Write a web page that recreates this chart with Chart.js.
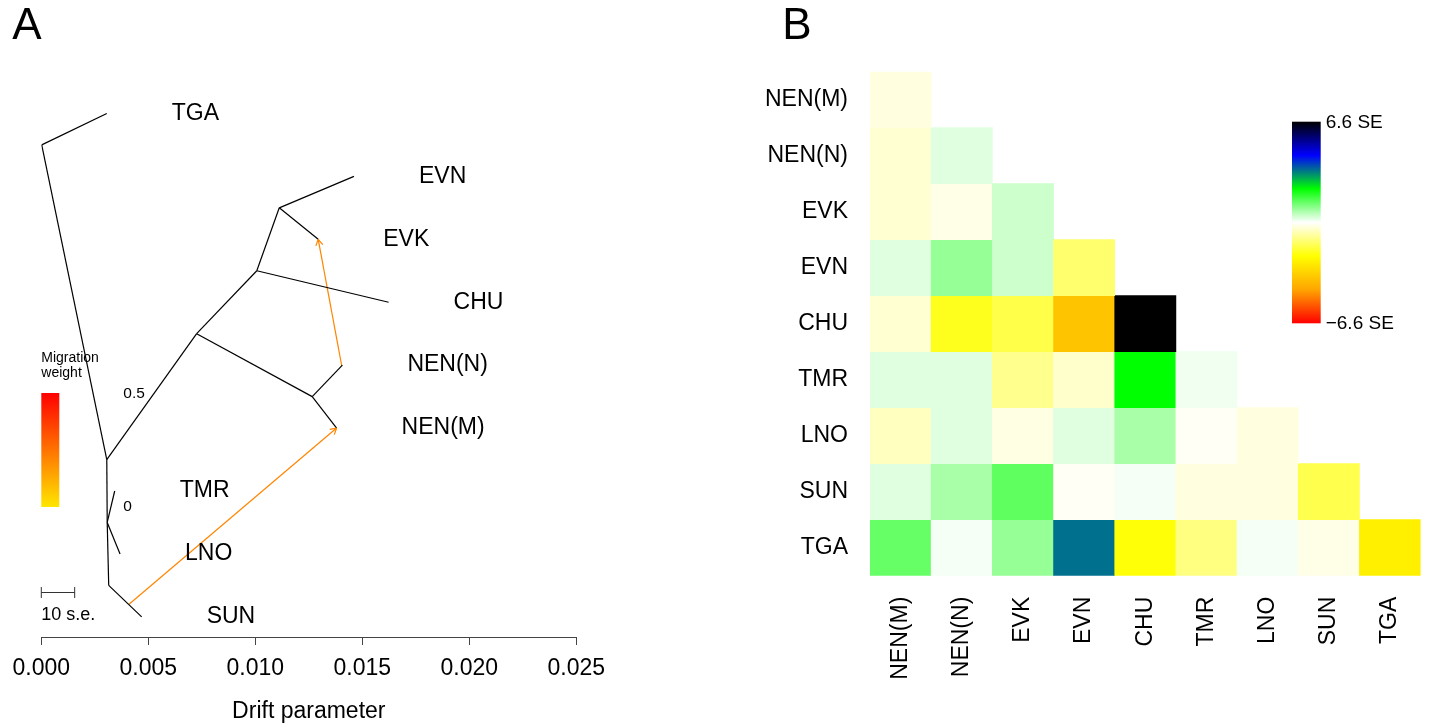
<!DOCTYPE html>
<html>
<head>
<meta charset="utf-8">
<title>TreeMix tree and residuals</title>
<script src="https://cdn.jsdelivr.net/npm/chart.js@4.4.1/dist/chart.umd.min.js"></script>
<style>
  html, body { margin: 0; padding: 0; background: #fff; }
  body { width: 1439px; height: 723px; position: relative; overflow: hidden; }
  .panel { position: absolute; top: 0; height: 723px; }
  #wrapA { left: 0; width: 720px; }
  #wrapB { left: 720px; width: 719px; }
</style>
</head>
<body>
<div id="wrapA" class="panel"><canvas id="tree"></canvas></div>
<div id="wrapB" class="panel"><canvas id="resid"></canvas></div>
<script>
// Panel A: tree. x = drift parameter, y = leaf order (1 = bottom leaf)
const nodeIds   = ['root', 'TGA', 'A', 'C', 'D', 'SUN', 'TMR', 'LNO', 'B', 'F', 'NEN(N)', 'NEN(M)', 'E', 'CHU', 'G', 'EVN', 'EVK'];
const nodeDrift = [0.00002, 0.00306, 0.00306, 0.00308, 0.00315, 0.00469, 0.00343, 0.00368, 0.00726, 0.01266, 0.01407, 0.01380, 0.01007, 0.01623, 0.01112, 0.01461, 0.01294];
const nodeY     = [8.5, 9, 3.5, 2.5, 1.5, 1, 3, 2, 5.5, 4.5, 5, 4, 6.5, 6, 7.5, 8, 7];
const edgeFrom  = ['root', 'root', 'A', 'C', 'C', 'C', 'D', 'A', 'B', 'B', 'F', 'F', 'E', 'E', 'G', 'G'];
const edgeTo    = ['TGA', 'A', 'C', 'TMR', 'LNO', 'D', 'SUN', 'B', 'E', 'F', 'NEN(N)', 'NEN(M)', 'CHU', 'G', 'EVN', 'EVK'];
const leafNames = ['TGA', 'EVN', 'EVK', 'CHU', 'NEN(N)', 'NEN(M)', 'TMR', 'LNO', 'SUN'];

// migration edges
const migFromDrift = [0.00410, 0.01404];
const migFromY     = [1.20, 4.99];
const migTo        = ['NEN(M)', 'EVK'];
const migWeight    = [0.21, 0.21];
const migMax = 0.5;
const seBarDrift = 0.00156; // length of "10 s.e."

// Panel B: residual fit, in SE units (lower triangle, rows top -> bottom)
const popLabels = ['NEN(M)', 'NEN(N)', 'EVK', 'EVN', 'CHU', 'TMR', 'LNO', 'SUN', 'TGA'];
const residNENM = [-0.27];
const residNENN = [-0.39, 0.27];
const residEVK  = [-0.39, -0.20, 0.44];
const residEVN  = [0.27, 0.91, 0.44, -1.25];
const residCHU  = [-0.40, -1.94, -1.56, -3.64, 6.6];
const residTMR  = [0.27, 0.27, -0.98, -0.44, 2.2, 0.13];
const residLNO  = [-0.55, 0.27, -0.23, 0.27, 0.75, -0.09, -0.27];
const residSUN  = [0.27, 0.75, 1.39, -0.09, 0.09, -0.27, -0.27, -1.53];
const residTGA  = [1.32, 0.09, 0.91, 3.43, -2.13, -1.10, 0.09, -0.20, -2.57];
const residRows = [residNENM, residNENN, residEVK, residEVN, residCHU, residTMR, residLNO, residSUN, residTGA];
const seMax = 6.6;
const seRamp = ['#ff0000', '#ffa500', '#ffff00', '#ffffff', '#00ff00', '#0000ff', '#000000'];

const FONT = '"Liberation Sans", Arial, Helvetica, sans-serif';
Chart.defaults.font.family = FONT;
Chart.defaults.color = '#000';
Chart.defaults.animation = false;

function nodePoint(id) {
    const i = nodeIds.indexOf(id);
    return { x: nodeDrift[i], y: nodeY[i] };
}

function migColor(w) {
    const f = Math.min(1, w / migMax);
    return `rgb(255,${Math.round(230 * (1 - f))},0)`;
}

function hexRgb(h) {
    return [1, 3, 5].map(i => parseInt(h.substr(i, 2), 16));
}

function seColor(v) {
    const t = (v + seMax) / (2 * seMax) * (seRamp.length - 1);
    const k = Math.min(seRamp.length - 2, Math.max(0, Math.floor(t)));
    const f = Math.min(1, Math.max(0, t - k));
    const a = hexRgb(seRamp[k]), b = hexRgb(seRamp[k + 1]);
    const c = a.map((x, i) => Math.round(x + (b[i] - x) * f));
    return `rgb(${c[0]},${c[1]},${c[2]})`;
}

// ---------- Panel A ----------
const treeSets = edgeFrom.map((from, i) => ({
    data: [nodePoint(from), nodePoint(edgeTo[i])],
    showLine: true, borderColor: '#000', borderWidth: 1.2, pointRadius: 0
}));
const migSets = migTo.map((to, i) => ({
    data: [{ x: migFromDrift[i], y: migFromY[i] }, nodePoint(to)],
    showLine: true, borderColor: migColor(migWeight[i]), borderWidth: 1.2, pointRadius: 0, arrow: true
}));

const treeDecor = {
    id: 'treeDecor',
    afterDatasetsDraw(chart) {
        const ctx = chart.ctx, xs = chart.scales.x, ys = chart.scales.y;
        ctx.save();
        // arrowheads
        chart.data.datasets.forEach((ds, i) => {
            if (!ds.arrow) return;
            const pts = chart.getDatasetMeta(i).data;
            const p0 = pts[0], p1 = pts[1];
            const ang = Math.atan2(p1.y - p0.y, p1.x - p0.x);
            ctx.strokeStyle = ds.borderColor;
            ctx.lineWidth = 1.2;
            ctx.beginPath();
            [-Math.PI / 6, Math.PI / 6].forEach(d => {
                ctx.moveTo(p1.x, p1.y);
                ctx.lineTo(p1.x - 7 * Math.cos(ang + d), p1.y - 7 * Math.sin(ang + d));
            });
            ctx.stroke();
        });
        // leaf labels
        ctx.fillStyle = '#000';
        ctx.font = '23px ' + FONT;
        ctx.textAlign = 'left';
        ctx.textBaseline = 'middle';
        leafNames.forEach(name => {
            const p = nodePoint(name);
            ctx.fillText(name, xs.getPixelForValue(p.x) + 65, ys.getPixelForValue(p.y));
        });
        // migration weight legend
        const lx = xs.getPixelForValue(0);
        ctx.font = '14px ' + FONT;
        ctx.fillText('Migration', lx, 358);
        ctx.fillText('weight', lx, 373);
        const g = ctx.createLinearGradient(0, 393, 0, 507);
        g.addColorStop(0, migColor(migMax));
        g.addColorStop(1, migColor(0));
        ctx.fillStyle = g;
        ctx.fillRect(lx, 393, 18, 114);
        ctx.fillStyle = '#000';
        ctx.font = '15.5px ' + FONT;
        ctx.fillText(String(migMax), lx + 82, 394);
        ctx.fillText('0', lx + 82, 507);
        // scale bar
        const sx = xs.getPixelForValue(seBarDrift);
        ctx.strokeStyle = '#333';
        ctx.lineWidth = 1;
        ctx.beginPath();
        ctx.moveTo(lx, 592.5); ctx.lineTo(sx, 592.5);
        ctx.moveTo(lx, 587); ctx.lineTo(lx, 598);
        ctx.moveTo(sx, 587); ctx.lineTo(sx, 598);
        ctx.stroke();
        ctx.font = '18px ' + FONT;
        ctx.fillText('10 s.e.', lx, 615);
        // panel letter
        ctx.font = '44px ' + FONT;
        ctx.textAlign = 'center';
        ctx.fillText('A', 27, 27);
        ctx.restore();
    }
};

new Chart(document.getElementById('tree'), {
    type: 'scatter',
    data: { datasets: treeSets.concat(migSets) },
    options: {
        responsive: true,
        maintainAspectRatio: false,
        layout: { padding: { left: 41.3, right: 143.7, top: 50.5, bottom: 0 } },
        plugins: { legend: { display: false }, tooltip: { enabled: false } },
        scales: {
            x: {
                type: 'linear', min: 0, max: 0.025,
                afterFit: s => { s.height = 86; },
                ticks: { stepSize: 0.005, padding: 10, font: { size: 23 }, color: '#000',
                         callback: v => v.toFixed(3) },
                grid: { drawOnChartArea: false, drawTicks: true, tickLength: 8, color: '#444' },
                border: { display: true, color: '#444', width: 1 },
                title: { display: true, text: 'Drift parameter', font: { size: 23, lineHeight: 1 },
                         padding: { top: 0, bottom: 0 }, color: '#000' }
            },
            y: { type: 'linear', min: 0.68, max: 10, display: false }
        }
    },
    plugins: [treeDecor]
});

// ---------- Panel B ----------
const nPop = popLabels.length;
const cellSets = residRows.map((row, r) => ({
    label: popLabels[r],
    data: popLabels.map((_, j) => j < row.length ? [nPop - 1 - r, nPop - r] : null),
    backgroundColor: popLabels.map((_, j) => j < row.length ? seColor(row[j]) : 'rgba(0,0,0,0)'),
    borderWidth: 0,
    barPercentage: 1,
    categoryPercentage: 1,
    grouped: false
}));

const residDecor = {
    id: 'residDecor',
    afterDraw(chart) {
        const ctx = chart.ctx;
        ctx.save();
        // colour key
        const top = 121.7, bot = 323.3, left = 572, w = 28.7;
        const g = ctx.createLinearGradient(0, top, 0, bot);
        seRamp.forEach((c, i) => g.addColorStop(1 - i / (seRamp.length - 1), c));
        ctx.fillStyle = g;
        ctx.fillRect(left, top, w, bot - top);
        ctx.fillStyle = '#000';
        ctx.font = '19px ' + FONT;
        ctx.textAlign = 'left';
        ctx.textBaseline = 'middle';
        ctx.fillText(seMax.toFixed(1) + ' SE', left + w + 5, top + 1);
        ctx.fillText('\u2212' + seMax.toFixed(1) + ' SE', left + w + 5, bot);
        // panel letter
        ctx.font = '44px ' + FONT;
        ctx.textAlign = 'center';
        ctx.fillText('B', 77, 27);
        ctx.restore();
    }
};

new Chart(document.getElementById('resid'), {
    type: 'bar',
    data: { labels: popLabels, datasets: cellSets },
    options: {
        responsive: true,
        maintainAspectRatio: false,
        layout: { padding: { left: 0, right: 6.5, top: 71.7, bottom: 0 } },
        plugins: { legend: { display: false }, tooltip: { enabled: false } },
        scales: {
            x: {
                afterFit: s => { s.height = 147.3; },
                ticks: { minRotation: 90, maxRotation: 90, autoSkip: false, padding: 21,
                         font: { size: 23 }, color: '#000' },
                grid: { display: false, drawTicks: false },
                border: { display: false }
            },
            y: {
                type: 'linear', min: 0, max: nPop,
                afterFit: s => { s.width = 150; },
                afterBuildTicks: s => { s.ticks = popLabels.map((_, r) => ({ value: nPop - 0.5 - r })); },
                ticks: { padding: 22, font: { size: 23 }, color: '#000',
                         callback: v => popLabels[Math.round(nPop - 0.5 - v)] },
                grid: { display: false, drawTicks: false },
                border: { display: false }
            }
        }
    },
    plugins: [residDecor]
});
</script>
</body>
</html>
